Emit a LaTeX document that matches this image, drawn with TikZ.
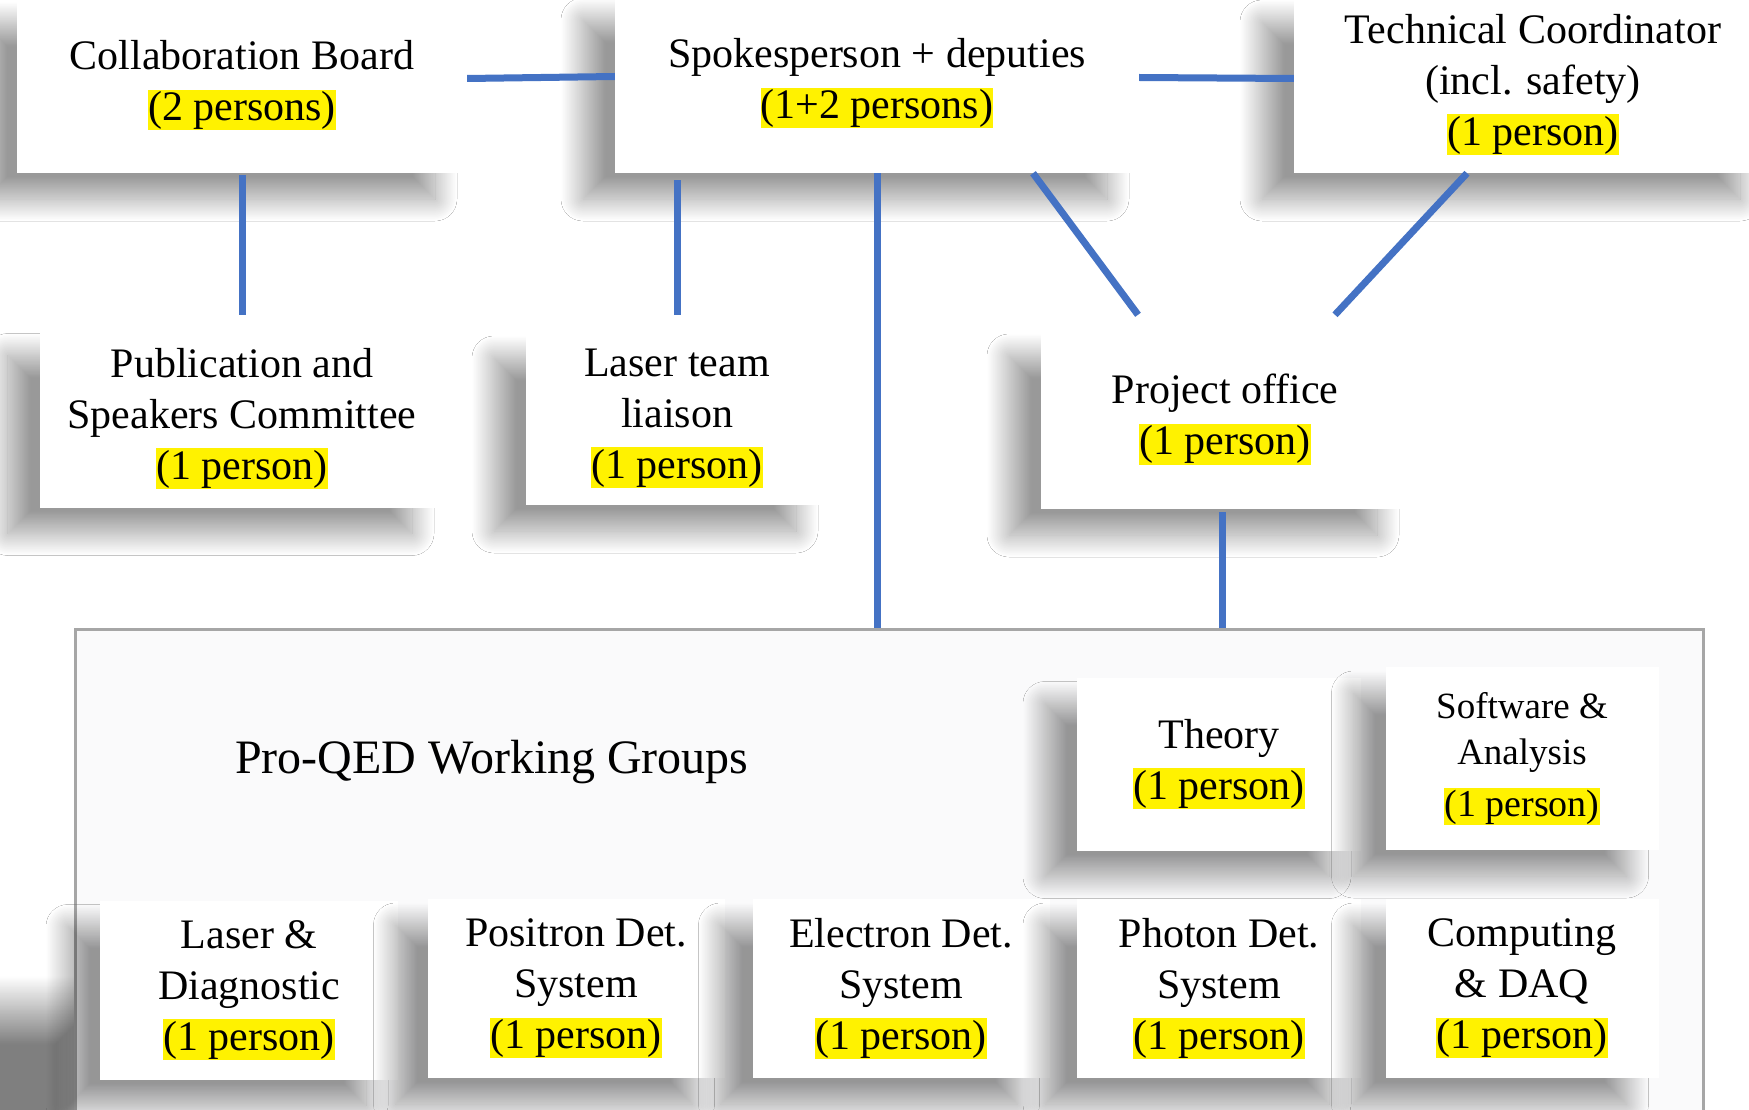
\documentclass[tikz,border=0pt]{standalone}
\usepackage{fontspec}
\setmainfont{Liberation Serif}
\usetikzlibrary{shadows.blur}
\definecolor{connblue}{HTML}{4472C4}
\definecolor{wgfill}{HTML}{FAFAFB}
\definecolor{wgline}{HTML}{A6A6A6}
\newcommand{\hlbox}[1]{{\setlength{\fboxsep}{0pt}\colorbox{yellow}{\rule[-0.23em]{0pt}{0.97em}#1}}}
\begin{document}
\begin{tikzpicture}[x=1pt,y=-1pt,
  softshadow/.style={blur shadow={shadow xshift=-32pt,shadow yshift=-26pt,shadow blur radius=22pt,shadow blur steps=40,shadow opacity=40}},
  box/.style={fill=white, align=center, inner sep=0pt,
    font=\fontsize{42}{51}\selectfont, softshadow},
  link/.style={draw=connblue, line width=7pt},
]
\useasboundingbox (0,0) rectangle (1749,1110);
\fill[white] (0,0) rectangle (1749,1110);

% shadow of the working group panel, lower left
\path[blur shadow={shadow xshift=0pt,shadow yshift=0pt,shadow blur radius=34pt,shadow blur steps=40,shadow opacity=50}]
  (-60,1010) rectangle (90,1170);

% working group container
\node[draw=wgline, line width=2.5pt, fill=wgfill, minimum width=1628pt, minimum height=520pt,
  anchor=north west, inner sep=0pt] (wg) at (74,628) {};
\node[font=\fontsize{48}{57}\selectfont] (wgtitle) at (492,762) {Pro-QED Working Groups};

% top row
\node[box, minimum width=450pt, minimum height=175pt] (collab) at (242,85.5)
  {Collaboration Board\\\hlbox{(2 persons)}};
\node[box, minimum width=524pt, minimum height=179pt] (spoke) at (877,83.5)
  {Spokesperson + deputies\\\hlbox{(1+2 persons)}};
\node[box, minimum width=478pt, minimum height=177pt] (tech) at (1533,84.5)
  {Technical Coordinator\\(incl. safety)\\\hlbox{(1 person)}};

% middle row
\node[box, minimum width=404pt, minimum height=178pt] (pub) at (242,418.5)
  {Publication and\\Speakers Committee\\\hlbox{(1 person)}};
\node[box, minimum width=302pt, minimum height=173pt] (laser) at (677,418.5)
  {Laser team\\liaison\\\hlbox{(1 person)}};
\node[box, minimum width=368pt, minimum height=179pt] (proj) at (1225,419.5)
  {Project office\\\hlbox{(1 person)}};

% working groups
\node[box, minimum width=284pt, minimum height=173pt] (theory) at (1219,764)
  {Theory\\\hlbox{(1 person)}};
\node[box, minimum width=273pt, minimum height=183pt, font=\fontsize{37}{46}\selectfont] (soft) at (1522,758.5)
  {Software \&\\Analysis\\[6pt]{\fontsize{38}{46}\selectfont\hlbox{(1 person)}}};
\node[box, minimum width=298pt, minimum height=179pt] (ldiag) at (249,990)
  {Laser \&\\Diagnostic\\\hlbox{(1 person)}};
\node[box, minimum width=297pt, minimum height=179pt] (posi) at (576,988.5)
  {Positron Det.\\System\\\hlbox{(1 person)}};
\node[box, minimum width=297pt, minimum height=179pt] (elec) at (901,988.5)
  {Electron Det.\\System\\\hlbox{(1 person)}};
\node[box, minimum width=284pt, minimum height=179pt] (phot) at (1219,988.5)
  {Photon Det.\\System\\\hlbox{(1 person)}};
\node[box, minimum width=273pt, minimum height=179pt] (comp) at (1522,988.5)
  {Computing\\\& DAQ\\\hlbox{(1 person)}};

% connectors
\draw[link] ([yshift=7pt]collab.east) -- ([yshift=7pt]spoke.west);
\draw[link] ([yshift=6pt]spoke.east) -- ([yshift=6pt]tech.west);
\draw[link, shorten <=2pt, shorten >=14pt] (collab.south) -- (pub.north);
\draw[link, shorten <=7pt, shorten >=17pt] (laser.north |- spoke.south) -- (laser.north);
\draw[link] (spoke.south) -- (spoke.south |- wg.north);
\draw[link] ([xshift=156pt]spoke.south) -- ([xshift=-87pt,yshift=15pt]proj.north);
\draw[link] ([xshift=-66pt]tech.south) -- ([xshift=110pt,yshift=15pt]proj.north);
\draw[link, shorten <=3pt] ([xshift=-3pt]proj.south) -- ([xshift=-3pt]proj.south |- wg.north);
\end{tikzpicture}
\end{document}
